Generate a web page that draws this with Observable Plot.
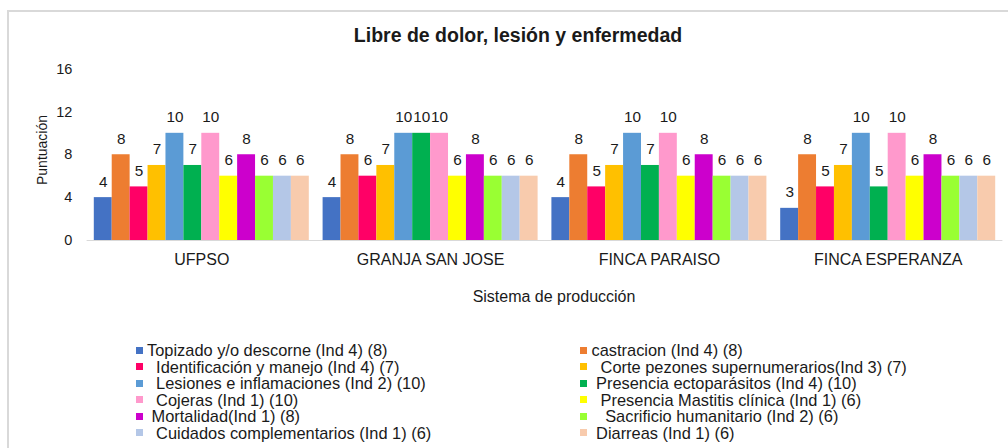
<!DOCTYPE html>
<html>
<head>
<meta charset="utf-8">
<script src="https://cdn.jsdelivr.net/npm/d3@7"></script>
<script src="https://cdn.jsdelivr.net/npm/@observablehq/plot@0.6"></script>
<style>
  body { margin: 0; background: #fff; font-family: "Liberation Sans", Arial, sans-serif; color: #1a1a1a; }
  #wrap { position: relative; width: 1008px; height: 448px; overflow: hidden; }
  #frame { position: absolute; left: 7px; top: 10px; width: 1010px; height: 450px; border-left: 2px solid #d9d9d9; border-top: 2px solid #d9d9d9; pointer-events: none; }
  #title { height: 31px; padding-top: 24px; padding-left: 28px; line-height: 22px; text-align: center; font-weight: bold; font-size: 19.5px; }
  #chart svg { display: block; }
  #ylabel { position: absolute; left: 41.5px; top: 150px; width: 0; height: 0; }
  #ylabel span { position: absolute; transform: translate(-50%, -50%) rotate(-90deg); white-space: nowrap; font-size: 14px; line-height: 16px; }
  #legend { display: grid; grid-template-columns: 444.5px auto; padding-left: 135.5px; padding-top: 30px; font-size: 16.4px; line-height: 16.5px; }
  .item { display: flex; align-items: center; white-space: pre; height: 16.5px; }
  .sw { width: 7px; height: 7px; margin-right: 4.5px; flex: none; }
</style>
</head>
<body>
<div id="wrap">
  <div id="frame"></div>
  <div id="title">Libre de dolor, lesión y enfermedad</div>
  <div id="chart"></div>
  <div id="legend"></div>
  <div id="ylabel"><span></span></div>
</div>
<script>
const groups = ["UFPSO", "GRANJA SAN JOSE", "FINCA PARAISO", "FINCA ESPERANZA"];
const series = [
  "Topizado y/o descorne (Ind 4) (8)",
  "castracion (Ind 4) (8)",
  "  Identificación y manejo (Ind 4) (7)",
  "  Corte pezones supernumerarios(Ind 3) (7)",
  "  Lesiones e inflamaciones (Ind 2) (10)",
  " Presencia ectoparásitos (Ind 4) (10)",
  "  Cojeras (Ind 1) (10)",
  "  Presencia Mastitis clínica (Ind 1) (6)",
  " Mortalidad(Ind 1) (8)",
  "   Sacrificio humanitario (Ind 2) (6)",
  "  Cuidados complementarios (Ind 1) (6)",
  " Diarreas (Ind 1) (6)"
];
const colors = ["#4472C4", "#ED7D31", "#FF0066", "#FFC000", "#5B9BD5", "#00B050",
                "#FF99CC", "#FFFF00", "#CC00CC", "#99FF33", "#B4C7E7", "#F8CBAD"];
const ufpso     = [4, 8, 5, 7, 10, 7, 10, 6, 8, 6, 6, 6];
const granja    = [4, 8, 6, 7, 10, 10, 10, 6, 8, 6, 6, 6];
const paraiso   = [4, 8, 5, 7, 10, 7, 10, 6, 8, 6, 6, 6];
const esperanza = [3, 8, 5, 7, 10, 5, 10, 6, 8, 6, 6, 6];
const yTicks = [0, 4, 8, 12, 16];
const yLabel = "Puntuación";
const xLabel = "Sistema de producción";

const valuesByGroup = [ufpso, granja, paraiso, esperanza];
const data = groups.flatMap((g, i) => valuesByGroup[i].map((v, j) => ({group: g, series: series[j], value: v})));

const font = '"Liberation Sans", Arial, sans-serif';
const chart = Plot.plot({
  width: 1008,
  height: 257,
  marginTop: 13.5,
  marginBottom: 72,
  marginLeft: 87,
  marginRight: 6,
  style: {fontFamily: font, color: "#1a1a1a", background: "transparent", overflow: "visible"},
  fx: {domain: groups, paddingInner: 0.0603, paddingOuter: 0.0297, round: false, label: null},
  x: {domain: series, padding: 0, round: false, axis: null},
  y: {domain: [0, 16]},
  color: {domain: series, range: colors},
  marks: [
    Plot.barY(data, {fx: "group", x: "series", y: "value", fill: "series"}),
    Plot.ruleY([0], {stroke: "#d9d9d9", strokeWidth: 1.2, insetLeft: -7.2, insetRight: -7.2}),
    Plot.text(data, {fx: "group", x: "series", y: "value", text: d => String(d.value), dy: -16, fontSize: 15.3, fill: "#1a1a1a"}),
    Plot.axisFx({anchor: "bottom", tickSize: 0, tickPadding: 13, fontSize: 16, label: null}),
    Plot.axisY({ticks: yTicks, tickSize: 0, tickPadding: 22, fontSize: 14.5, label: null}),
    Plot.text([xLabel], {facet: "super", frameAnchor: "bottom", text: d => d, dx: 9, dy: 61, fontSize: 16, fill: "#1a1a1a"})
  ]
});
document.getElementById("chart").appendChild(chart);
document.querySelector("#ylabel span").textContent = yLabel;

const legend = document.getElementById("legend");
series.forEach((s, i) => {
  const item = document.createElement("div");
  item.className = "item";
  const sw = document.createElement("span");
  sw.className = "sw";
  sw.style.background = colors[i];
  const t = document.createElement("span");
  t.textContent = s;
  item.appendChild(sw);
  item.appendChild(t);
  legend.appendChild(item);
});
</script>
</body>
</html>
